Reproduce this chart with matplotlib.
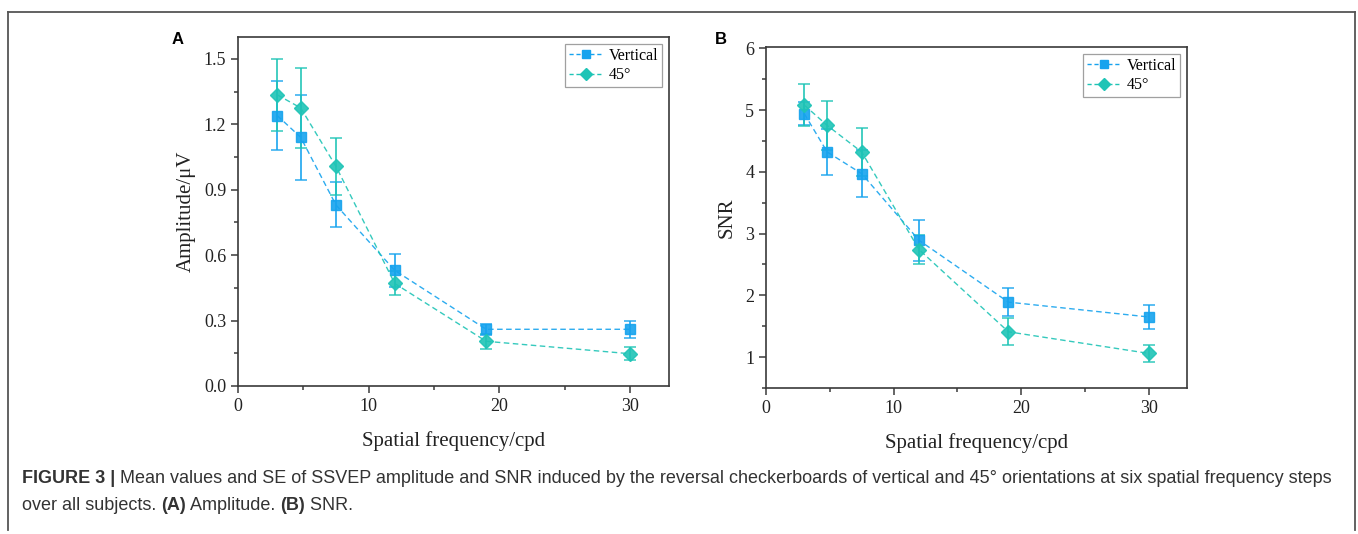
import matplotlib
matplotlib.use("Agg")
import matplotlib.pyplot as plt
from matplotlib.ticker import MultipleLocator
from matplotlib.lines import Line2D

# spatial frequency steps (cpd)
freq = [3, 4.8, 7.5, 12, 19, 30]

# panel A: amplitude (uV), mean and SE
amp_vert = [1.24, 1.14, 0.83, 0.53, 0.26, 0.26]
amp_vert_se = [0.158, 0.195, 0.103, 0.075, 0.025, 0.04]
amp_45 = [1.335, 1.275, 1.007, 0.47, 0.205, 0.148]
amp_45_se = [0.164, 0.184, 0.13, 0.055, 0.035, 0.03]

# panel B: SNR, mean and SE
snr_vert = [4.94, 4.32, 3.97, 2.89, 1.89, 1.65]
snr_vert_se = [0.19, 0.38, 0.38, 0.33, 0.23, 0.19]
snr_45 = [5.08, 4.75, 4.32, 2.74, 1.41, 1.06]
snr_45_se = [0.34, 0.39, 0.39, 0.24, 0.22, 0.14]

series_names = ["Vertical", "45°"]
caption_bold = "FIGURE 3 |"
caption_1 = (" Mean values and SE of SSVEP amplitude and SNR induced by the reversal checkerboards "
             "of vertical and 45° orientations at six spatial frequency steps")

c_vert = "#16a3ee"
c_45 = "#1fc4b6"
spine_c = "#3a3a3a"
serif = ["Liberation Serif", "DejaVu Serif"]
sans = ["Liberation Sans", "DejaVu Sans"]

W, H = 1358, 534
fig = plt.figure(figsize=(W / 100, H / 100), dpi=100)
fig.patch.set_facecolor("white")


def px_axes(l, t, r, b):
    return fig.add_axes([l / W, 1 - b / H, (r - l) / W, (b - t) / H])


def draw_panel(ax, v, vse, d, dse, ylim, ymaj, ymin, yfmt, ylabel):
    ax.errorbar(freq, v, yerr=vse, color=c_vert, ecolor=c_vert, elinewidth=1.3,
                capsize=4, capthick=1.1, marker="s", ms=7.5, lw=1.0, ls=(0, (4, 2.5)),
                alpha=0.9, zorder=3)
    ax.errorbar(freq, d, yerr=dse, color=c_45, ecolor=c_45, elinewidth=1.3,
                capsize=4, capthick=1.1, marker="D", ms=7.5, lw=1.0, ls=(0, (4, 2.5)),
                alpha=0.9, zorder=3)
    ax.set_xlim(0, 33)
    ax.set_ylim(*ylim)
    ax.xaxis.set_major_locator(MultipleLocator(10))
    ax.xaxis.set_minor_locator(MultipleLocator(5))
    ax.yaxis.set_major_locator(MultipleLocator(ymaj))
    ax.yaxis.set_minor_locator(MultipleLocator(ymin))
    ax.yaxis.set_major_formatter(yfmt)
    ax.tick_params(which="both", direction="out", color=spine_c, width=1.1,
                   labelsize=13, labelcolor="#222222", top=False, right=False)
    ax.tick_params(which="major", length=5)
    ax.tick_params(which="minor", length=3)
    for lab in ax.get_xticklabels() + ax.get_yticklabels():
        lab.set_family(serif)
    for s in ax.spines.values():
        s.set_color(spine_c)
        s.set_linewidth(1.2)
    ax.set_xlabel("Spatial frequency/cpd", family=serif, fontsize=15, color="#222222", labelpad=12)
    ax.set_ylabel(ylabel, family=serif, fontsize=15, color="#222222", labelpad=6)
    handles = [Line2D([], [], color=c_vert, marker="s", ms=6, lw=1.0, ls=(0, (3, 2))),
               Line2D([], [], color=c_45, marker="D", ms=6, lw=1.0, ls=(0, (3, 2)))]
    bw = ax.get_position().width * W
    bh = ax.get_position().height * H
    leg = ax.legend(handles, series_names, loc="upper right", prop={"family": serif, "size": 11.5},
                    frameon=True, fancybox=False, edgecolor="#888888", borderpad=0.25,
                    borderaxespad=0, handlelength=2.1, handletextpad=0.35, labelspacing=0.2,
                    bbox_to_anchor=(1 - 7 / bw, 1 - 7 / bh))
    leg.get_frame().set_linewidth(0.9)


axA = px_axes(238, 37, 669, 386)
draw_panel(axA, amp_vert, amp_vert_se, amp_45, amp_45_se, (0, 1.6), 0.3, 0.15,
           "{x:.1f}", "Amplitude/μV")
axB = px_axes(766, 47, 1187, 388)
draw_panel(axB, snr_vert, snr_vert_se, snr_45, snr_45_se, (0.5, 6.02), 1, 0.5,
           "{x:.0f}", "SNR")

fig.text(178 / W, 1 - 40 / H, "A", family=sans, weight="bold", fontsize=12, ha="center", va="center")
fig.text(721 / W, 1 - 40 / H, "B", family=sans, weight="bold", fontsize=12, ha="center", va="center")

# outer frame
frame = dict(color="#555555", lw=1.3, transform=fig.transFigure)
fig.add_artist(Line2D([8 / W, 1355 / W], [1 - 12 / H, 1 - 12 / H], **frame))
fig.add_artist(Line2D([8 / W, 8 / W], [1 - 12 / H, 1 - 530 / H], **frame))
fig.add_artist(Line2D([1355 / W, 1355 / W], [1 - 12 / H, 1 - 530 / H], **frame))

# caption
fs = 13.0
y1 = 1 - 483 / H
y2 = 1 - 510 / H
t0 = fig.text(22 / W, y1, caption_bold, family=sans, weight="bold", fontsize=fs,
              color="#333333", va="baseline")
renderer = fig.canvas.get_renderer()
bb = t0.get_window_extent(renderer)
fig.text(bb.x1 / W, y1, caption_1, family=sans, fontsize=fs, color="#333333", va="baseline")

parts = [("over all subjects. ", "normal"), ("(A)", "bold"), (" Amplitude. ", "normal"),
         ("(B)", "bold"), (" SNR.", "normal")]
x = 22
for txt, wgt in parts:
    t = fig.text(x / W, y2, txt, family=sans, weight=wgt, fontsize=fs, color="#333333", va="baseline")
    x = t.get_window_extent(renderer).x1

fig.savefig("out.png", dpi=100)
